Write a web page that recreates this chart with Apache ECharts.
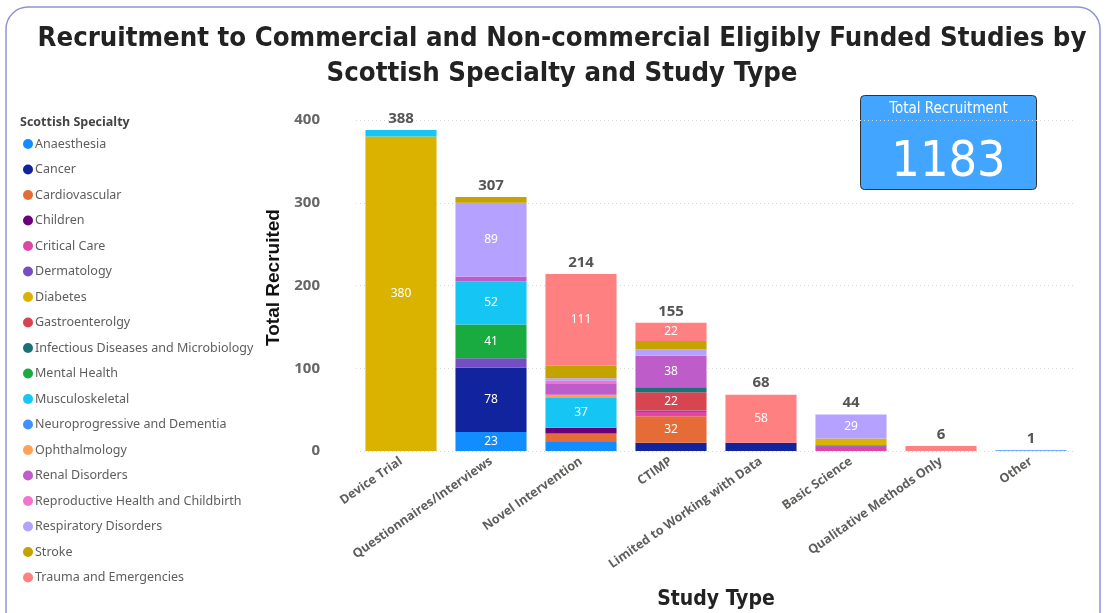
<!DOCTYPE html>
<html>
<head>
<meta charset="utf-8">
<script src="https://cdn.jsdelivr.net/npm/echarts@6/dist/echarts.min.js"></script>
<style>
html,body{margin:0;padding:0;background:#fff;}
#chart{width:1105px;height:613px;}
</style>
</head>
<body>
<div id="chart"></div>
<script>
const categories = ['Device Trial','Questionnaires/Interviews','Novel Intervention','CTIMP','Limited to Working with Data','Basic Science','Qualitative Methods Only','Other'];
const specialties = ['Anaesthesia','Cancer','Cardiovascular','Children','Critical Care','Dermatology','Diabetes','Gastroenterolgy','Infectious Diseases and Microbiology','Mental Health','Musculoskeletal','Neuroprogressive and Dementia','Ophthalmology','Renal Disorders','Reproductive Health and Childbirth','Respiratory Disorders','Stroke','Trauma and Emergencies'];
const anaesthesia      = [0, 23, 11, 0, 0, 0, 0, 0];
const cancer           = [0, 78, 0, 10, 10, 0, 0, 0];
const cardiovascular   = [0, 0, 10, 32, 0, 0, 0, 0];
const children         = [0, 0, 7, 0, 0, 0, 0, 0];
const criticalCare     = [0, 0, 0, 5, 0, 5, 0, 0];
const dermatology      = [0, 11, 0, 2, 0, 2, 0, 0];
const diabetes         = [380, 0, 0, 0, 0, 8, 0, 0];
const gastro           = [0, 0, 0, 22, 0, 0, 0, 0];
const infectious       = [0, 0, 0, 6, 0, 0, 0, 0];
const mentalHealth     = [0, 41, 0, 0, 0, 0, 0, 0];
const musculoskeletal  = [8, 52, 37, 0, 0, 0, 0, 0];
const neuroprogressive = [0, 0, 0, 0, 0, 0, 0, 1];
const ophthalmology    = [0, 0, 3, 0, 0, 0, 0, 0];
const renal            = [0, 6, 14, 38, 0, 0, 0, 0];
const reproductive     = [0, 0, 3, 0, 0, 0, 0, 0];
const respiratory      = [0, 89, 3, 8, 0, 29, 0, 0];
const stroke           = [0, 7, 15, 10, 0, 0, 0, 0];
const trauma           = [0, 0, 111, 22, 58, 0, 6, 0];
const yTicks = [0, 100, 200, 300, 400];

const seriesValues = [anaesthesia, cancer, cardiovascular, children, criticalCare, dermatology, diabetes, gastro, infectious, mentalHealth, musculoskeletal, neuroprogressive, ophthalmology, renal, reproductive, respiratory, stroke, trauma];
const colors = ['#118DFF','#12239E','#E66C37','#6B007B','#E044A7','#744EC2','#D9B300','#D64550','#197278','#1AAB40','#15C6F4','#4092FF','#FFA058','#BE5DC9','#F472D0','#B5A1FF','#C4A200','#FF8080'];

const totals = categories.map((c, i) => seriesValues.reduce((s, arr) => s + arr[i], 0));
const grandTotal = totals.reduce((a, b) => a + b, 0);

const series = specialties.map((name, k) => ({
  name: name,
  type: 'bar',
  stack: 'all',
  barWidth: '79%',
  itemStyle: { color: colors[k] },
  label: {
    show: true,
    position: 'inside',
    color: '#ffffff',
    fontFamily: 'Noto Sans',
    fontSize: 12,
    formatter: p => (p.value >= 20 ? String(p.value) : '')
  },
  emphasis: { disabled: true },
  data: seriesValues[k]
}));
series.push({
  name: 'Total',
  type: 'bar',
  stack: 'all',
  barWidth: '79%',
  itemStyle: { color: 'transparent' },
  label: {
    show: true,
    position: 'top',
    distance: 4,
    color: '#555555',
    fontFamily: 'Open Sans',
    fontWeight: 'bold',
    fontSize: 15,
    formatter: p => String(totals[p.dataIndex])
  },
  emphasis: { disabled: true },
  data: categories.map(() => 0)
});

const chart = echarts.init(document.getElementById('chart'));
chart.setOption({
  animation: false,
  color: colors,
  graphic: [
    { type: 'rect', shape: { x: 6, y: 7, width: 1094, height: 660, r: 22 }, style: { fill: 'none', stroke: '#8f93d8', lineWidth: 1.5 }, z: -10 },
    { type: 'text', x: 562, y: 21, style: { text: 'Recruitment to Commercial and Non-commercial Eligibly Funded Studies by\nScottish Specialty and Study Type', fontFamily: 'DejaVu Sans Condensed', fontWeight: 'bold', fontSize: 27.3, lineHeight: 35, fill: '#222222', textAlign: 'center' } },
    { type: 'text', left: 20, top: 116, style: { text: 'Scottish Specialty', fontFamily: 'Open Sans', fontWeight: 'bold', fontSize: 12.5, fill: '#444444' } },
    { type: 'group', left: 860, top: 95, children: [
      { type: 'rect', shape: { x: 0, y: 0, width: 176, height: 94, r: 4 }, style: { fill: '#42A5FF', stroke: '#333333', lineWidth: 1 } },
      { type: 'text', x: 88, y: 6, style: { text: 'Total Recruitment', fontFamily: 'DejaVu Sans Condensed', fontSize: 15, fill: '#ffffff', textAlign: 'center' } },
      { type: 'text', x: 88, y: 43, style: { text: String(grandTotal), fontFamily: 'DejaVu Sans Condensed', fontSize: 50, fill: '#ffffff', textAlign: 'center' } }
    ]}
  ],
  legend: {
    orient: 'vertical',
    left: 18,
    top: 132,
    icon: 'circle',
    itemWidth: 10,
    itemHeight: 10,
    itemGap: 11.5,
    selectedMode: false,
    data: specialties,
    textStyle: { fontFamily: 'Noto Sans', fontSize: 12.5, color: '#605E5C', padding: [0, 0, 0, -3], lineHeight: 14 }
  },
  grid: { left: 356, right: 29, top: 120, bottom: 162, outerBoundsMode: 'none', containLabel: false },
  xAxis: {
    type: 'category',
    data: categories,
    axisLine: { show: false },
    axisTick: { show: false },
    axisLabel: { rotate: 35, interval: 0, margin: 9, fontFamily: 'Open Sans', fontWeight: 'bold', fontSize: 12.5, color: '#605E5C' },
    name: 'Study Type',
    nameLocation: 'middle',
    nameGap: 138,
    nameTextStyle: { fontFamily: 'DejaVu Sans Condensed', fontWeight: 'bold', fontSize: 21, color: '#222222' }
  },
  yAxis: {
    type: 'value',
    min: 0,
    max: 400,
    interval: 100,
    axisLine: { show: false },
    axisTick: { show: false },
    axisLabel: { margin: 36, fontFamily: 'Open Sans', fontWeight: 'bold', fontSize: 15, color: '#666666', formatter: v => (yTicks.includes(v) ? String(v) : '') },
    splitLine: { lineStyle: { color: '#d6d6d6', type: [1, 3], width: 1 } },
    name: 'Total Recruited',
    nameLocation: 'middle',
    nameGap: 62,
    nameTextStyle: { fontFamily: 'Liberation Sans', fontWeight: 'bold', fontSize: 19, color: '#111111', padding: [0, 0, 0, 16] }
  },
  series: series
});
</script>
</body>
</html>
